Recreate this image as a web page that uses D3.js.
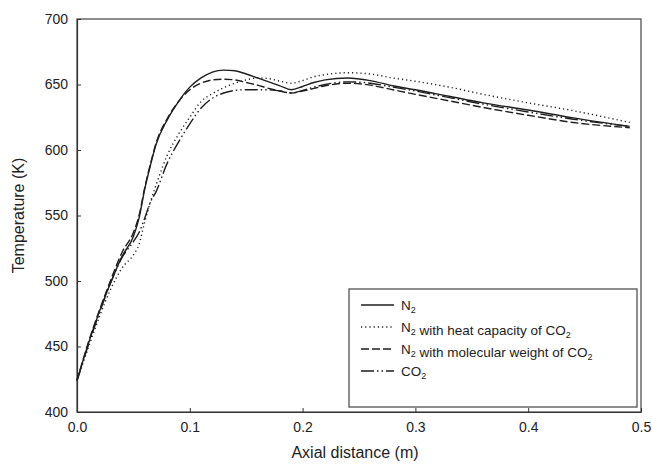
<!DOCTYPE html>
<html><head><meta charset="utf-8">
<script src="https://cdn.jsdelivr.net/npm/d3@7"></script>
<style>
html,body{margin:0;padding:0;background:#fff;}
svg{display:block;font-family:"Liberation Sans",Arial,sans-serif;}
</style></head>
<body>
<svg id="chart" width="652" height="469"></svg>
<script>
const xValues = [0, 0.01, 0.02, 0.03, 0.04, 0.05, 0.055, 0.06, 0.065, 0.07, 0.08, 0.09, 0.1, 0.11, 0.12, 0.13, 0.14, 0.15, 0.16, 0.17, 0.18, 0.19, 0.2, 0.21, 0.22, 0.24, 0.26, 0.28, 0.3, 0.33, 0.36, 0.4, 0.44, 0.49];
const n2 =        [424, 452, 477, 499, 519, 534, 548, 570, 588, 604, 623, 637, 648, 655, 659.5, 661, 660.5, 658, 655, 652, 649, 646, 648.5, 651.5, 653.5, 655, 653, 649, 646, 641, 636, 630.5, 624.5, 618];
const n2HeatCap = [424, 449, 473, 494, 510, 520, 528, 545, 560, 573, 596, 612, 625, 637, 643, 647.5, 651, 653.5, 655, 654.5, 652.5, 651, 653, 656, 657.5, 659, 658, 655, 652.5, 648, 642.5, 636, 630, 621];
const n2MolWt =   [424, 453, 478, 501, 522, 537, 550, 571, 589, 605, 624, 637, 646, 651, 653.5, 654, 653.5, 651.5, 649.5, 647, 645, 643.5, 645, 647, 649, 651, 649.5, 646, 642.5, 637.5, 632.5, 626.5, 621, 617];
const co2 =       [424, 451, 476, 499, 518, 530, 537, 548, 560, 568, 590, 606, 620, 632, 639.5, 643.5, 645.5, 646, 646, 646, 645, 643.5, 645.5, 648, 650, 652, 651, 648, 645, 640, 635, 629, 623.5, 618];
const seriesNames = ["N2", "N2 with heat capacity of CO2", "N2 with molecular weight of CO2", "CO2"];
const xTicks = [0, 0.1, 0.2, 0.3, 0.4, 0.5];
const yTicks = [400, 450, 500, 550, 600, 650, 700];

const series = [
  {name: seriesNames[0], values: n2, dash: null},
  {name: seriesNames[1], values: n2HeatCap, dash: "1.2,3"},
  {name: seriesNames[2], values: n2MolWt, dash: "8,3"},
  {name: seriesNames[3], values: co2, dash: "13,3,1.5,3,1.5,3"}
];

const svg = d3.select("#chart");
const m = {left: 77, right: 641, top: 19, bottom: 412};
const x = d3.scaleLinear().domain([0, 0.5]).range([m.left, m.right]);
const y = d3.scaleLinear().domain([400, 700]).range([m.bottom, m.top]);
const ink = "#1e1e1e";

// frame
svg.append("rect").attr("x", m.left).attr("y", m.top)
  .attr("width", m.right - m.left).attr("height", m.bottom - m.top)
  .attr("fill", "none").attr("stroke", "#444").attr("stroke-width", 1.2);

// axes
const xAxis = svg.append("g").attr("transform", `translate(0,${m.bottom})`)
  .call(d3.axisBottom(x).tickValues(xTicks).tickFormat(d3.format(".1f")).tickSizeInner(-4).tickSizeOuter(0).tickPadding(10));
const yAxis = svg.append("g").attr("transform", `translate(${m.left},0)`)
  .call(d3.axisLeft(y).tickValues(yTicks).tickSizeInner(-4).tickSizeOuter(0).tickPadding(9));
[xAxis, yAxis].forEach(g => {
  g.select(".domain").attr("stroke", "#333").attr("stroke-width", 1.2);
  g.selectAll(".tick line").attr("stroke", "#333");
  g.selectAll(".tick text").attr("font-size", 14).attr("fill", "#222")
    .attr("font-family", "'Liberation Sans', Arial, sans-serif");
});

// axis titles
svg.append("text").attr("x", (m.left + m.right) / 2 - 4).attr("y", 458)
  .attr("text-anchor", "middle").attr("font-size", 16).attr("fill", "#222")
  .text("Axial distance (m)");
svg.append("text").attr("transform", `translate(24,${(m.top + m.bottom) / 2}) rotate(-90)`)
  .attr("text-anchor", "middle").attr("font-size", 16).attr("fill", "#222")
  .text("Temperature (K)");

// lines
const line = d3.line().x((d, i) => x(xValues[i])).y(d => y(d)).curve(d3.curveMonotoneX);
series.forEach(s => {
  svg.append("path").datum(s.values).attr("d", line)
    .attr("fill", "none").attr("stroke", ink).attr("stroke-width", 1.4)
    .attr("stroke-dasharray", s.dash);
});

// legend
const lg = svg.append("g");
lg.append("rect").attr("x", 349).attr("y", 289).attr("width", 288).attr("height", 118)
  .attr("fill", "#fff").attr("stroke", "#444").attr("stroke-width", 1.2);
function richText(sel, str) {
  const parts = str.split(/(CO2|N2)/).filter(p => p.length);
  parts.forEach(p => {
    if (p === "CO2" || p === "N2") {
      sel.append("tspan").text(p.slice(0, -1));
      sel.append("tspan").attr("font-size", 9).attr("dy", 3).text("2");
      sel.append("tspan").attr("dy", -3).text("");
    } else {
      sel.append("tspan").text(p);
    }
  });
}
series.forEach((s, i) => {
  const yy = 305 + i * 22;
  lg.append("line").attr("x1", 361).attr("x2", 394).attr("y1", yy).attr("y2", yy)
    .attr("stroke", ink).attr("stroke-width", 1.4).attr("stroke-dasharray", s.dash);
  const t = lg.append("text").attr("x", 401).attr("y", yy + 4.5).attr("font-size", 13.5).attr("fill", "#222");
  richText(t, s.name);
});
</script>
</body></html>
